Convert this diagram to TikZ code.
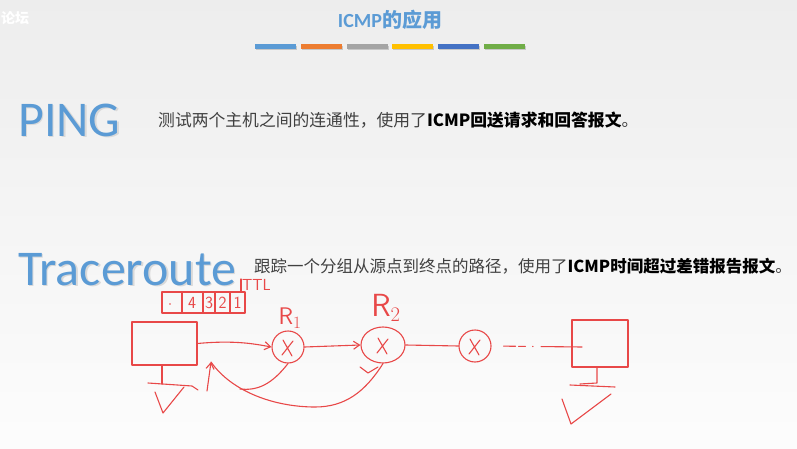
\documentclass[tikz,border=0pt]{standalone}
\usepackage{fontspec}
\setmainfont{Carlito}
\newfontfamily\cjk{Noto Sans CJK SC}
\usetikzlibrary{arrows.meta,shapes.geometric}
\definecolor{slideblue}{RGB}{91,155,213}
\definecolor{penred}{RGB}{232,72,72}
\definecolor{bodygray}{RGB}{64,64,64}
\definecolor{barA}{RGB}{91,155,213}
\definecolor{barB}{RGB}{237,125,49}
\definecolor{barC}{RGB}{165,165,165}
\definecolor{barD}{RGB}{255,192,0}
\definecolor{barE}{RGB}{68,114,196}
\definecolor{barF}{RGB}{112,173,71}

\begin{document}
\begin{tikzpicture}[x=1pt,y=-1pt,>={Straight Barb[length=6pt,width=8pt]},
  pen/.style={draw=penred,line width=1.1pt,line cap=round,line join=round},
  router/.style={pen,circle,minimum size=32pt,inner sep=0pt,
    path picture={
      \draw[penred,line width=1.1pt,line cap=round]
        ([shift={(-5pt,7pt)}]path picture bounding box.center) -- ([shift={(4pt,-9pt)}]path picture bounding box.center)
        ([shift={(5pt,6pt)}]path picture bounding box.center) -- ([shift={(-6pt,-8pt)}]path picture bounding box.center);}},
  host/.style={pen,rectangle,minimum width=65pt,minimum height=43pt,inner sep=0pt},
  hand/.style={text=penred,font=\sffamily,inner sep=0pt},
  big/.style={font=\fontsize{50}{50}\selectfont,inner sep=0pt,anchor=west},
  body/.style={font=\cjk\fontsize{16.8}{17}\selectfont,text=bodygray,inner sep=0pt,anchor=west}]
  \useasboundingbox (0,0) rectangle (797,449);
  \shade[top color=gray!14,bottom color=gray!2] (0,0) rectangle (797,449);
  \node[font=\cjk\bfseries\fontsize{14}{14}\selectfont,text=white,anchor=west,inner sep=0pt] (mark) at (1,18) {论坛};
  % title and colour bars
  \node[font=\bfseries\fontsize{20}{20}\selectfont,text=slideblue] (title) at (390,20) {ICMP{\cjk 的应用}};
  \foreach \c [count=\i from 0] in {barA,barB,barC,barD,barE,barF} {
    \fill[black!22] (256+45.8*\i,46) rectangle +(41,4.5);
    \fill[\c] (255+45.8*\i,44.5) rectangle +(41,4.5);
  }
  % PING
  \node[big,text=black!15] (pingshade) at (19.5,121.5) {PING};
  \node[big,text=slideblue] (ping) at (18,120) {PING};
  \node[body] (pingtext) at (158,120)
    {测试两个主机之间的连通性，使用了{\color{black}\bfseries ICMP回送请求和回答报文}。};
  % Traceroute
  \node[big,text=black!15] (traceshade) at (19.5,271) {Traceroute};
  \node[big,text=slideblue] (trace) at (18,269.5) {Traceroute};
  \node[body,font=\cjk\fontsize{16.5}{17}\selectfont] (tracetext) at (254,266)
    {跟踪一个分组从源点到终点的路径，使用了{\color{black}\bfseries ICMP时间超过差错报告报文}。};
  % packet with TTL
  \draw[pen] (162,292) rectangle (245,313);
  \foreach \x in {182,203,215,230} \draw[pen] (\x,292) -- (\x,313);
  \fill[penred] (170,304) circle (0.9);
  \foreach \n/\x in {4/192,3/209,2/222.5,1/237.5}
    \node[hand,font=\sffamily\fontsize{17}{17}\selectfont] (d\n) at (\x,303) {\n};
  \draw[pen] (241,292) -- (241,279);
  \node[hand,font=\sffamily\fontsize{16}{16}\selectfont,anchor=west] (ttl) at (242,285) {TTL};
  % hosts and routers
  \node[host] (src) at (164.5,343.5) {};
  \node[host,minimum width=56pt,minimum height=47pt] (dst) at (600,343.5) {};
  \node[router] (r1) at (288,347) {};
  \node[router,ellipse,minimum width=44pt,minimum height=36pt] (r2) at (383,345) {};
  \node[router] (r3) at (475,346) {};
  \node[hand,font=\sffamily\fontsize{24}{24}\selectfont] (r1lab) at (290,318) {R$_1$};
  \node[hand,font=\sffamily\fontsize{32}{32}\selectfont] (r2lab) at (386,308) {R$_2$};
  % stands
  \draw[pen] (162,365) -- (162,384);
  \draw[pen] (148,383) -- (192,386) -- (198,390);
  \draw[pen] (155,392) -- (163,413) -- (184,387);
  \draw[pen] (597,367) -- (597,383) -- (580,384);
  \draw[pen] (570,385) -- (615,387);
  \draw[pen] (562,399) -- (571,424) -- (611,394);
  \draw[pen] (360,367) -- (368,373) -- (378,367);
  % forward path
  \coordinate (dstin) at (582,347);
  \draw[pen,->] (src.east) .. controls (235,340) and (255,344) .. (r1.west);
  \draw[pen,->] (r1.east) -- (r2.west);
  \draw[pen] (r2.east) -- (r3.west);
  \draw[pen,dash pattern=on 12pt off 3pt on 7pt off 7pt on 0.5pt off 8pt on 60pt off 12pt,dash phase=97.5pt]
    (r3.east) -- (dstin);
  % returning messages
  \coordinate (ret) at (211,362);
  \coordinate (tail) at (207,391);
  \coordinate (loop) at (240,389);
  \draw[pen,->] (tail) -- (ret);
  \draw[pen] (r1.south) .. controls (272,384) and (258,391) .. (loop);
  \draw[pen] (r2.south) .. controls (365,392) and (345,407) .. (315,407)
    .. controls (275,407) and (232,392) .. (ret);
\end{tikzpicture}
\end{document}
